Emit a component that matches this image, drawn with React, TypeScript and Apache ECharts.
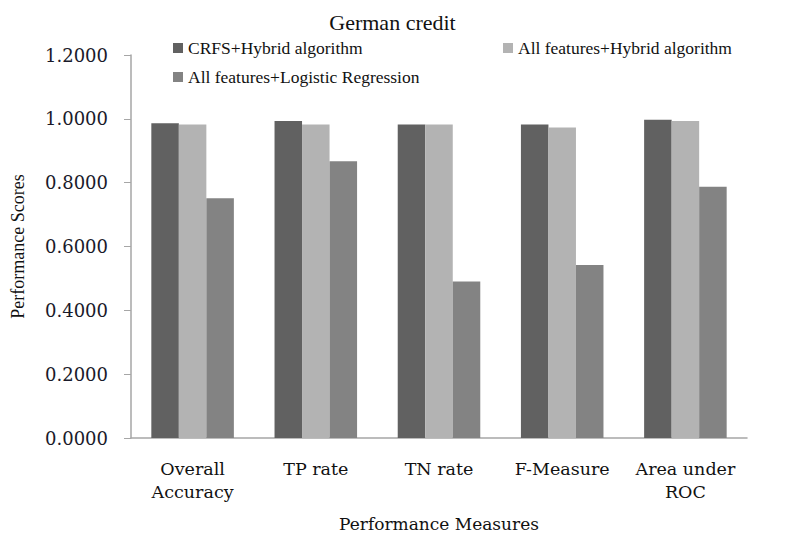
import React, { useEffect, useRef } from "react";
import * as echarts from "echarts";

const categories = ["Overall\nAccuracy", "TP rate", "TN rate", "F-Measure", "Area under\nROC"];
const seriesNames = [
  "CRFS+Hybrid algorithm",
  "All features+Hybrid algorithm",
  "All features+Logistic Regression",
];
const crfsHybrid = [0.986, 0.993, 0.982, 0.982, 0.997];
const allHybrid = [0.982, 0.982, 0.982, 0.973, 0.993];
const allLogistic = [0.751, 0.867, 0.49, 0.542, 0.787];
const yTicks = [0, 0.2, 0.4, 0.6, 0.8, 1.0, 1.2];

const colors = ["#616161", "#b3b3b3", "#838383"];
const TIMES = "'Liberation Serif', 'Times New Roman', serif";
const WIDE = "'DejaVu Serif', serif";

export default function App() {
  const ref = useRef<HTMLDivElement>(null);
  useEffect(() => {
    if (!ref.current) return;
    const chart = echarts.init(ref.current, undefined, { renderer: "svg" });
    const legendCommon = {
      itemWidth: 10,
      itemHeight: 10,
      icon: "rect",
      textStyle: { fontFamily: TIMES, fontSize: 17.5, color: "#111" },
      padding: 0,
    };
    chart.setOption({
      animation: false,
      title: {
        text: "German credit",
        left: "center",
        top: 6,
        textStyle: { fontFamily: TIMES, fontSize: 22, fontWeight: "normal", color: "#111" },
      },
      legend: [
        { ...legendCommon, data: [seriesNames[0]], left: 173, top: 39 },
        { ...legendCommon, data: [seriesNames[1]], left: 503, top: 39 },
        { ...legendCommon, data: [seriesNames[2]], left: 173, top: 68 },
      ],
      grid: { left: 131, right: 38, top: 55, bottom: 102, containLabel: false },
      xAxis: {
        type: "category",
        data: categories,
        name: "Performance Measures",
        nameLocation: "middle",
        nameGap: 77,
        nameTextStyle: { fontFamily: WIDE, fontSize: 17, color: "#111" },
        axisLine: { lineStyle: { color: "#a6a6a6", width: 1.5 } },
        axisTick: { show: false },
        axisLabel: {
          fontFamily: WIDE,
          fontSize: 17.5,
          color: "#111",
          lineHeight: 23,
          margin: 19,
          interval: 0,
        },
      },
      yAxis: {
        type: "value",
        min: 0,
        max: 1.2,
        interval: 0.2,
        name: "Performance Scores",
        nameLocation: "middle",
        nameGap: 104,
        nameTextStyle: { fontFamily: TIMES, fontSize: 18, color: "#111" },
        axisLine: { show: true, lineStyle: { color: "#a6a6a6", width: 1.5 } },
        axisTick: { show: true, length: 7, lineStyle: { color: "#a6a6a6" } },
        splitLine: { show: false },
        axisLabel: {
          fontFamily: WIDE,
          fontSize: 18,
          color: "#1a1a2a",
          margin: 23,
          formatter: (v: number) => (yTicks.includes(Math.round(v * 10) / 10) ? v.toFixed(4) : ""),
        },
      },
      series: [
        {
          name: seriesNames[0],
          type: "bar",
          data: crfsHybrid,
          itemStyle: { color: colors[0] },
          barGap: "0%",
          barCategoryGap: "33%",
        },
        {
          name: seriesNames[1],
          type: "bar",
          data: allHybrid,
          itemStyle: { color: colors[1] },
          barGap: "0%",
          barCategoryGap: "33%",
        },
        {
          name: seriesNames[2],
          type: "bar",
          data: allLogistic,
          itemStyle: { color: colors[2] },
          barGap: "0%",
          barCategoryGap: "33%",
        },
      ],
    });
    return () => chart.dispose();
  }, []);
  return <div ref={ref} style={{ width: 785, height: 540, position: "absolute", left: 0, top: 0 }} />;
}
